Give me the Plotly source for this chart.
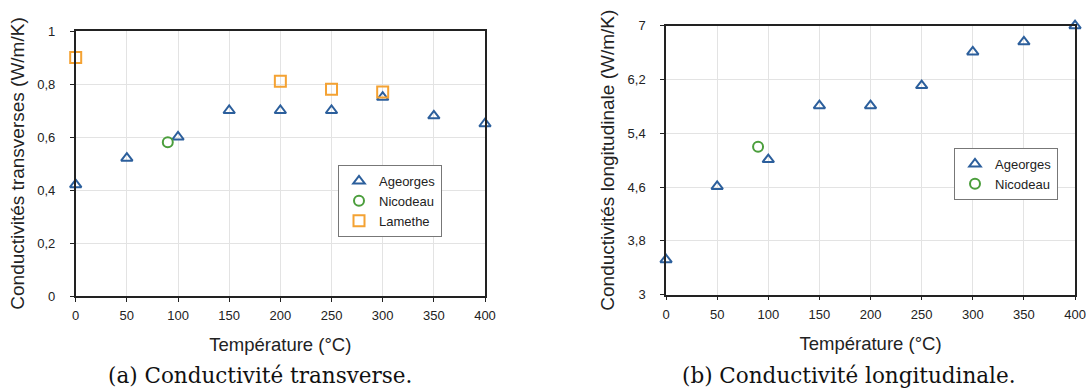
import plotly.graph_objects as go
from plotly.subplots import make_subplots

# data
temp_ageorges = [0, 50, 100, 150, 200, 250, 300, 350, 400]
trans_ageorges = [0.42, 0.52, 0.60, 0.70, 0.70, 0.70, 0.75, 0.68, 0.65]
long_ageorges = [3.52, 4.61, 5.01, 5.81, 5.81, 6.11, 6.61, 6.76, 7.0]

temp_nicodeau = [90]
trans_nicodeau = [0.58]
long_nicodeau = [5.2]

temp_lamethe = [0, 200, 250, 300]
trans_lamethe = [0.90, 0.81, 0.78, 0.77]

x_ticks = [0, 50, 100, 150, 200, 250, 300, 350, 400]
y_ticks_a = [0, 0.2, 0.4, 0.6, 0.8, 1]
y_text_a = ["0", "0,2", "0,4", "0,6", "0,8", "1"]
y_ticks_b = [3, 3.8, 4.6, 5.4, 6.2, 7]
y_text_b = ["3", "3,8", "4,6", "5,4", "6,2", "7"]

BLUE = "#2c5f9c"
GREEN = "#4b9e3c"
ORANGE = "#f4a233"
FONT = "Liberation Sans"

fig = make_subplots(rows=1, cols=2)

tri = dict(symbol="triangle-up-open", size=10, color=BLUE, line=dict(width=2, color=BLUE))
circ = dict(symbol="circle-open", size=10, color=GREEN, line=dict(width=2, color=GREEN))
sq = dict(symbol="square-open", size=11, color=ORANGE, line=dict(width=2, color=ORANGE))

fig.add_trace(go.Scatter(x=temp_ageorges, y=trans_ageorges, mode="markers", name="Ageorges",
                         marker=tri, cliponaxis=False, legend="legend"), 1, 1)
fig.add_trace(go.Scatter(x=temp_nicodeau, y=trans_nicodeau, mode="markers", name="Nicodeau",
                         marker=circ, cliponaxis=False, legend="legend"), 1, 1)
fig.add_trace(go.Scatter(x=temp_lamethe, y=trans_lamethe, mode="markers", name="Lamethe",
                         marker=sq, cliponaxis=False, legend="legend"), 1, 1)

fig.add_trace(go.Scatter(x=temp_ageorges, y=long_ageorges, mode="markers", name="Ageorges",
                         marker=tri, cliponaxis=False, legend="legend2"), 1, 2)
fig.add_trace(go.Scatter(x=temp_nicodeau, y=long_nicodeau, mode="markers", name="Nicodeau",
                         marker=circ, cliponaxis=False, legend="legend2"), 1, 2)

xcommon = dict(range=[0, 400], tickvals=x_ticks, showgrid=True, gridcolor="#e3e3e3",
               showline=True, linecolor="#222", linewidth=1.5, mirror=True,
               ticks="outside", ticklen=4, tickcolor="#222", zeroline=False,
               automargin=False, ticklabelstandoff=3,
               tickfont=dict(family=FONT, size=13, color="#222"),
               title=dict(text="Température (°C)", font=dict(family=FONT, size=18.5, color="#222"),
                          standoff=16))
ycommon = dict(showgrid=True, gridcolor="#e3e3e3", showline=True, linecolor="#222",
               linewidth=1.5, mirror=True, ticks="outside", ticklen=4, tickcolor="#222",
               zeroline=False, automargin=False, ticklabelstandoff=12,
               tickfont=dict(family=FONT, size=13, color="#222"))

fig.update_xaxes(**xcommon, domain=[0.0697, 0.4466], row=1, col=1)
fig.update_xaxes(**xcommon, domain=[0.6133, 0.9899], row=1, col=2)
fig.update_yaxes(**ycommon, range=[0, 1], tickvals=y_ticks_a, ticktext=y_text_a,
                 domain=[0.2371, 0.9201],
                 title=dict(text="Conductivités transverses (W/m/K)",
                            font=dict(family=FONT, size=19, color="#222"), standoff=8),
                 row=1, col=1)
fig.update_yaxes(**ycommon, range=[3, 7], tickvals=y_ticks_b, ticktext=y_text_b,
                 domain=[0.2405, 0.9338],
                 title=dict(text="Conductivités longitudinale (W/m/K)",
                            font=dict(family=FONT, size=19, color="#222"), standoff=8),
                 row=1, col=2)

leg = dict(bgcolor="white", bordercolor="#777", borderwidth=1,
           font=dict(family=FONT, size=13, color="#222"), tracegroupgap=0,
           itemwidth=30, xanchor="left", yanchor="top")
fig.update_layout(
    width=1086, height=388,
    margin=dict(l=0, r=0, t=0, b=0),
    paper_bgcolor="white", plot_bgcolor="white",
    showlegend=True,
    legend=dict(**leg, x=338 / 1086, y=1 - 165 / 388),
    legend2=dict(**leg, x=954 / 1086, y=1 - 148 / 388),
    annotations=[
        dict(text="(a) Conductivité transverse.", x=259.5 / 1086, y=1 - 375 / 388,
             xref="paper", yref="paper", showarrow=False, xanchor="center", yanchor="middle",
             font=dict(family="DejaVu Serif", size=21.5, color="#111")),
        dict(text="(b) Conductivité longitudinale.", x=849 / 1086, y=1 - 375 / 388,
             xref="paper", yref="paper", showarrow=False, xanchor="center", yanchor="middle",
             font=dict(family="DejaVu Serif", size=21.5, color="#111")),
    ],
)

# the page body has a default 8px margin; drop it so the figure fills the window
fig.write_html("out.html", config={"displayModeBar": False},
               post_script="document.body.style.margin='0';")
